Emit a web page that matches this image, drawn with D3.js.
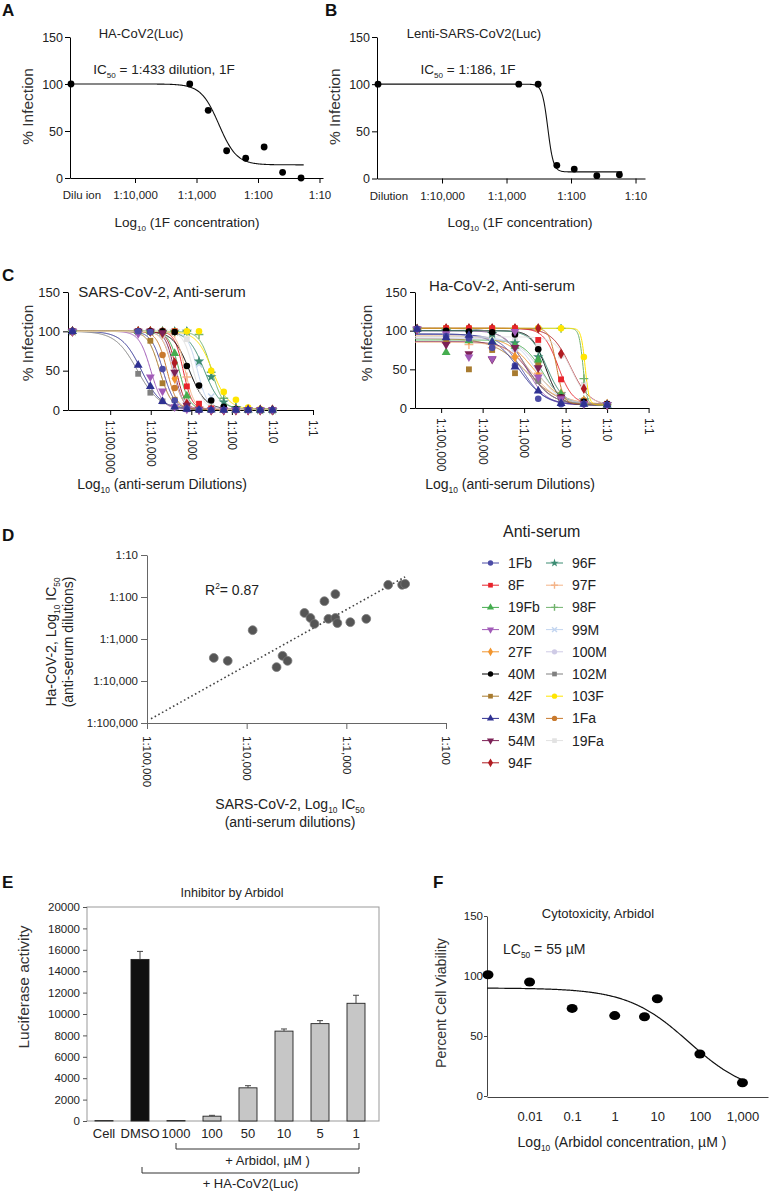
<!DOCTYPE html>
<html>
<head>
<meta charset="utf-8">
<script src="https://cdn.jsdelivr.net/npm/d3@7"></script>
<style>
body { margin: 0; background: #fff; }
svg { display: block; font-family: "Liberation Sans", Arial, Helvetica, sans-serif; }
</style>
</head>
<body>
<svg id="fig" width="778" height="1191"></svg>
<script>
// ---------- data (x values are log10 of the reciprocal dilution / concentration) ----------

// A: HA-CoV2(Luc) neutralised by 1F
var aDilution = [3.11, 2.81, 2.51, 2.2, 1.9, 1.6, 1.3];
var aInfection = [100, 72, 29, 21, 33, 6, 0];
var aControl = 100;
var aFit = [100, 14, 2.636, 3];          // top, bottom, logIC50, hill

// B: Lenti-SARS-CoV2(Luc) neutralised by 1F
var bDilution = [2.81, 2.51, 2.22, 1.95, 1.6, 1.25];
var bInfection = [100, 100, 14, 10, 3, 4];
var bControl = 100;
var bFit = [100, 7, 2.36, 10];

var dilTicks = [4, 3, 2, 1];
var dilTickLabels = ["1:10,000", "1:1,000", "1:100", "1:10"];
var pctTicks = [0, 50, 100, 150];

// C / D: anti-serum samples
var sera = ["1Fb", "8F", "19Fb", "20M", "27F", "40M", "42F", "43M", "54M", "94F",
            "96F", "97F", "98F", "99M", "100M", "102M", "103F", "1Fa", "19Fa"];
var seraColors = ["#4c4ca6", "#e8232b", "#45ad4f", "#a15bb8", "#f2962f", "#000000", "#a87b2f", "#2f3192", "#7d2257", "#b01c22",
                  "#3c8c73", "#f4b489", "#72b36e", "#c3d5f0", "#cfcbe6", "#808080", "#ffe500", "#c97a2e", "#e2e2e2"];
var seraShapes = ["circle", "square", "triangle", "down", "diamond", "circle", "square", "triangle", "down", "diamond",
                  "star", "plus", "plus", "x", "circle", "square", "circle", "circle", "square"];
// marker stacking, lightest first
var drawOrder = [18, 14, 13, 11, 12, 15, 10, 17, 4, 6, 2, 16, 9, 1, 5, 8, 3, 0, 7];

// C left: SARS-CoV-2, 2-fold series 1:20480 .. 1:10
var cLeftDil = [4.31, 4.01, 3.71, 3.41, 3.11, 2.81, 2.51, 2.2, 1.9, 1.6, 1.3, 1.0];
var cLeftControl = 100;
var cLeftFit = [[3.70, 3], [3.2, 4], [3.3, 3.5], [4.0, 3], [3.46, 3.5], [3.05, 2.2], [3.78, 3], [4.23, 1.8], [3.42, 4], [3.37, 4],
                [2.68, 2.2], [3.15, 4], [2.5, 3], [2.85, 3.5], [3.45, 3.5], [4.33, 1.6], [2.48, 2.2], [3.6, 3.5], [2.95, 3.5]];
var cLeftVals = [
  [100, 99, 52, 12, 2, 0, 0, 0, 0, 0, 0, 0],
  [100, 100, 100, 100, 30, 8, 2, 0, 0, 0, 0, 0],
  [100, 100, 100, 72, 18, 3, 1, 0, 0, 0, 0, 0],
  [97, 42, 24, 4, 1, 0, 0, 0, 0, 0, 0, 0],
  [100, 100, 97, 40, 6, 1, 0, 0, 0, 0, 0, 0],
  [100, 100, 100, 99, 56, 31, 12, 4, 1, 0, 0, 0],
  [100, 88, 34, 13, 3, 0, 0, 0, 0, 0, 0, 0],
  [57, 30, 11, 4, 1, 0, 0, 0, 0, 0, 0, 0],
  [100, 100, 98, 48, 6, 1, 0, 0, 0, 0, 0, 0],
  [100, 100, 99, 60, 8, 1, 0, 0, 0, 0, 0, 0],
  [100, 100, 100, 100, 100, 62, 42, 10, 3, 1, 0, 0],
  [100, 100, 100, 97, 42, 4, 1, 0, 0, 0, 0, 0],
  [100, 100, 100, 100, 100, 96, 48, 15, 4, 1, 0, 0],
  [100, 100, 100, 100, 99, 58, 17, 2, 0, 0, 0, 0],
  [100, 100, 95, 46, 9, 2, 0, 0, 0, 0, 0, 0],
  [46, 22, 11, 3, 1, 0, 0, 0, 0, 0, 0, 0],
  [100, 100, 100, 100, 100, 100, 50, 23, 13, 3, 1, 0],
  [100, 99, 70, 28, 6, 1, 0, 0, 0, 0, 0, 0],
  [100, 100, 100, 100, 90, 30, 6, 1, 0, 0, 0, 0]
];

// C right: Ha-CoV-2
var cRightDil = [4.88, 4.33, 3.77, 3.22, 2.66, 2.11, 1.56, 1.0];
var cRightControl = 102;
var cRightFit = [[95, 4, 3.05, 1.6], [103, 5, 2.18, 2.5], [88, 4, 2.55, 1.8], [100, 4, 2.95, 1.8], [93, 5, 2.75, 1.3],
                 [100, 4, 2.48, 2.6], [90, 4, 2.95, 1.1], [96, 4, 3.12, 1.4], [86, 4, 2.85, 1.5], [103, 3, 1.88, 1.9],
                 [100, 5, 2.45, 2.2], [85, 5, 2.8, 1.4], [103, 4, 1.58, 9], [92, 5, 2.7, 1.6], [90, 5, 2.6, 1.6],
                 [103, 5, 2.95, 1.5], [103, 4, 1.53, 9], [103, 5, 2.22, 5], [92, 5, 1.85, 2.2]];
var cRightVals = [
  [93, 90, 78, 55, 12, 5, 5, 4],
  [103, 103, 103, 103, 88, 37, 8, 5],
  [72, 87, 86, 80, 62, 18, 7, 4],
  [96, 66, 64, 99, 40, 12, 5, 4],
  [92, 88, 80, 66, 42, 18, 9, 5],
  [100, 99, 98, 95, 76, 14, 8, 5],
  [88, 50, 75, 45, 56, 15, 8, 5],
  [91, 94, 85, 53, 22, 6, 5, 4],
  [82, 70, 63, 78, 52, 14, 6, 4],
  [103, 103, 103, 103, 103, 70, 25, 4],
  [100, 98, 96, 84, 66, 18, 10, 5],
  [84, 82, 78, 67, 45, 20, 9, 5],
  [103, 103, 103, 103, 103, 103, 38, 4],
  [92, 90, 86, 78, 55, 14, 6, 5],
  [90, 88, 84, 76, 62, 16, 7, 5],
  [103, 101, 96, 80, 35, 12, 6, 5],
  [103, 103, 103, 103, 103, 103, 66, 5],
  [103, 103, 103, 103, 103, 14, 10, 5],
  [92, 92, 90, 88, 80, 68, 30, 6]
];
var cTicks = [5, 4, 3, 2, 1, 0];
var cTickLabels = ["1:100,000", "1:10,000", "1:1,000", "1:100", "1:10", "1:1"];

// D: IC50 correlation
var dSars = [4.33, 4.19, 3.94, 3.70, 3.64, 3.59, 3.42, 3.36, 3.32, 3.22, 3.18, 3.11, 3.11, 3.09, 2.96, 2.80, 2.58, 2.44, 2.41];
var dHa   = [3.45, 3.52, 2.79, 3.67, 3.40, 3.52, 2.38, 2.50, 2.64, 2.10, 2.52, 1.93, 2.50, 2.62, 2.60, 2.52, 1.71, 1.71, 1.69];
var dFitX = [4.96, 2.41];
var dFitY = [4.90, 1.52];
var dTicks = [5, 4, 3, 2, 1];
var dTickLabels = ["1:100,000", "1:10,000", "1:1,000", "1:100", "1:10"];

// E: luciferase, Arbidol
var eCats = ["Cell", "DMSO", "1000", "100", "50", "10", "5", "1"];
var eVals = [40, 15100, 40, 450, 3100, 8400, 9100, 11000];
var eErr  = [0, 750, 0, 80, 200, 200, 280, 750];
var eTicks = [0, 2000, 4000, 6000, 8000, 10000, 12000, 14000, 16000, 18000, 20000];

// F: cytotoxicity, Arbidol (log10 µM)
var fConc = [-2, -1, 0, 0.699, 1, 2, 3];
var fViab = [95, 73, 67, 66, 81, 35, 11];
var fControl = 101;
var fFit = [90, 0, 1.74, 0.6];
var fTicks = [-2, -1, 0, 1, 2, 3];
var fTickLabels = ["0.01", "0.1", "1", "10", "100", "1,000"];

// ---------- helpers ----------
var svg = d3.select("#fig");
svg.append("rect").attr("width", 778).attr("height", 1191).attr("fill", "#fff");

function fourPL(p, L) {
  return p[1] + (p[0] - p[1]) / (1 + Math.pow(10, p[3] * (p[2] - L)));
}

function styleAxis(g, size, color) {
  g.selectAll("path, line").attr("stroke", color || "#000");
  g.selectAll("text").style("font-size", size + "px").attr("fill", "#222");
}

// parts: [text, kind] kind 0 normal, 1 subscript, 2 superscript
function richText(g, x, y, parts, size, anchor) {
  var t = g.append("text").attr("x", x).attr("y", y)
    .style("font-size", size + "px").attr("text-anchor", anchor || "start").attr("fill", "#222");
  var off = 0;
  parts.forEach(function(p) {
    var s = t.append("tspan").text(p[0]);
    var want = p[1] == 1 ? size * 0.28 : p[1] == 2 ? -size * 0.4 : 0;
    if (want != off) { s.attr("dy", want - off); off = want; }
    if (p[1]) s.style("font-size", (size * 0.6) + "px");
  });
  return t;
}

function letter(t, x, y) {
  svg.append("text").attr("x", x).attr("y", y).text(t)
    .style("font-size", "17px").style("font-weight", "bold").attr("fill", "#111");
}

function vLabel(g, x, y, txt, size) {
  g.append("g").attr("transform", "translate(" + x + "," + y + ") rotate(-90)")
    .append("text").attr("text-anchor", "middle").style("font-size", size + "px")
    .style("font-weight", "normal").attr("fill", "#333").text(txt);
}

var symTypes = { circle: d3.symbolCircle, square: d3.symbolSquare, triangle: d3.symbolTriangle, down: d3.symbolTriangle,
                 diamond: d3.symbolDiamond, star: d3.symbolStar, plus: d3.symbolPlus, x: d3.symbolX };

function mark(g, shape, color, cx, cy, size) {
  var stroked = shape == "plus" || shape == "x";
  g.append("path").attr("d", d3.symbol(symTypes[shape], stroked ? size * 0.8 : size)())
    .attr("transform", "translate(" + cx + "," + cy + ")" + (shape == "down" ? " rotate(180)" : ""))
    .attr("fill", stroked ? "none" : color)
    .attr("stroke", stroked ? color : "none")
    .attr("stroke-width", stroked ? 1.4 : 0);
}

// ---------- A and B ----------
function dosePanel(c) {
  var x = d3.scaleLinear().domain(c.xDom).range(c.xRange);
  var y = d3.scaleLinear().domain([0, 150]).range(c.yRange);
  var g = svg.append("g");

  g.append("g").attr("transform", "translate(0," + c.yRange[0] + ")")
    .call(d3.axisBottom(x).tickValues(dilTicks).tickFormat(function(d, i) { return dilTickLabels[i]; })
      .tickSize(5).tickPadding(8).tickSizeOuter(0))
    .call(styleAxis, 11.5);
  g.append("g").attr("transform", "translate(" + c.xRange[0] + ",0)")
    .call(d3.axisLeft(y).tickValues(pctTicks).tickSize(5).tickPadding(2).tickSizeOuter(0))
    .call(styleAxis, 12.5);

  g.append("text").attr("x", x(c.xDom[0]) + 12).attr("y", c.yRange[0] + 21)
    .attr("text-anchor", "middle").style("font-size", "11.5px").attr("fill", "#222").text(c.ctrlLabel);

  var Ls = d3.range(c.xDom[0], c.fitEnd, -0.01);
  g.append("path").datum(Ls)
    .attr("d", d3.line().x(function(L) { return x(L); }).y(function(L) { return y(fourPL(c.fit, L)); }))
    .attr("fill", "none").attr("stroke", "#111").attr("stroke-width", 1.1);

  g.append("circle").attr("cx", x(c.xDom[0]) + 1).attr("cy", y(c.control)).attr("r", 3.4).attr("fill", "#000");
  g.selectAll("circle.pt").data(c.dil).enter().append("circle").attr("class", "pt")
    .attr("cx", function(d) { return x(d); })
    .attr("cy", function(d, i) { return y(c.vals[i]); })
    .attr("r", 3.4).attr("fill", "#000");

  g.append("text").attr("x", c.titleX).attr("y", 38).attr("text-anchor", "middle")
    .style("font-size", "13px").attr("fill", "#222").text(c.title);
  richText(g, c.icX, 74, [["IC", 0], ["50", 1], [c.icText, 0]], 13.5, "middle");

  vLabel(g, c.xRange[0] - 37, (c.yRange[0] + c.yRange[1]) / 2 - 1, "% Infection", 15.5);

  richText(g, c.titleX + 46, 227, [["Log", 0], ["10", 1], [" (1F concentration)", 0]], 13.5, "middle");
}

letter("A", 2, 16);
dosePanel({ xDom: [5.057, 0.943], xRange: [70, 323], yRange: [178, 37], fit: aFit, fitEnd: 1.25,
  dil: aDilution, vals: aInfection, control: aControl, ctrlLabel: "Dilu ion",
  title: "HA-CoV2(Luc)", titleX: 141, icX: 164, icText: " = 1:433 dilution, 1F" });

letter("B", 325, 16);
dosePanel({ xDom: [5.008, 0.853], xRange: [377, 645], yRange: [178.5, 37], fit: bFit, fitEnd: 1.2,
  dil: bDilution, vals: bInfection, control: bControl, ctrlLabel: "Dilution",
  title: "Lenti-SARS-CoV2(Luc)", titleX: 474, icX: 468, icText: " = 1:186, 1F" });

// ---------- C ----------
function seraPanel(c) {
  var x = d3.scaleLinear().domain(c.xDom).range(c.xRange);
  var y = d3.scaleLinear().domain([0, 150]).range(c.yRange);
  var g = svg.append("g");

  var ax = g.append("g").attr("transform", "translate(0," + c.yRange[0] + ")")
    .call(d3.axisBottom(x).tickValues(cTicks).tickFormat(function(d, i) { return cTickLabels[i]; })
      .tickSize(5).tickSizeOuter(0))
    .call(styleAxis, 12);
  ax.selectAll(".tick text").attr("y", 0).attr("x", 10).attr("dy", "0.35em")
    .attr("transform", "rotate(90)").style("text-anchor", "start");
  g.append("g").attr("transform", "translate(" + c.xRange[0] + ",0)")
    .call(d3.axisLeft(y).tickValues(pctTicks).tickSize(5).tickPadding(3).tickSizeOuter(0))
    .call(styleAxis, 13);

  var Ls = d3.range(c.xDom[0], 0.99, -0.01);
  sera.forEach(function(s, i) {
    g.append("path").datum(Ls)
      .attr("d", d3.line().x(function(L) { return x(L); }).y(function(L) { return y(c.fitOf(i, L)); }))
      .attr("fill", "none").attr("stroke", seraColors[i]).attr("stroke-width", 1);
  });
  var mg = g.append("g");
  drawOrder.forEach(function(i) {
    mark(mg, seraShapes[i], seraColors[i], x(c.ctrlL), y(c.control), 34);
    c.dil.forEach(function(L, j) {
      mark(mg, seraShapes[i], seraColors[i], x(L), y(c.vals[i][j]), 34);
    });
  });

  g.append("text").attr("x", c.titleX).attr("y", c.titleY).attr("text-anchor", "middle")
    .style("font-size", "15px").attr("fill", "#222").text(c.title);
  vLabel(g, c.ylabX, 343, "% Infection", 15.5);
  richText(g, c.xtX, 489, [["Log", 0], ["10", 1], [" (anti-serum Dilutions)", 0]], 14, "middle");
}

letter("C", 2, 281);
seraPanel({ xDom: [6.04, 0], xRange: [68, 313], yRange: [410, 292], dil: cLeftDil, vals: cLeftVals,
  ctrlL: 5.93, control: cLeftControl,
  fitOf: function(i, L) { return fourPL([100, 1, cLeftFit[i][0], cLeftFit[i][1]], L); },
  title: "SARS-CoV-2, Anti-serum", titleX: 162, titleY: 297, ylabX: 33, xtX: 162 });
seraPanel({ xDom: [5.63, 0], xRange: [415, 648.6], yRange: [408, 292], dil: cRightDil, vals: cRightVals,
  ctrlL: 5.58, control: cRightControl,
  fitOf: function(i, L) { return fourPL(cRightFit[i], L); },
  title: "Ha-CoV-2, Anti-serum", titleX: 502, titleY: 291, ylabX: 372, xtX: 510 });

// ---------- D ----------
letter("D", 2, 541);
var xD = d3.scaleLinear().domain([5, 2]).range([147, 446]);
var yD = d3.scaleLinear().domain([5, 1]).range([723, 555]);
var gD = svg.append("g");
var axD = gD.append("g").attr("transform", "translate(0,723)")
  .call(d3.axisBottom(xD).tickValues(dTicks.slice(0, 4)).tickFormat(function(d, i) { return dTickLabels[i]; })
    .tickSize(6).tickSizeOuter(0))
  .call(styleAxis, 11.5, "#666");
axD.selectAll(".tick text").attr("y", 0).attr("x", 13).attr("dy", "0.35em")
  .attr("transform", "rotate(90)").style("text-anchor", "start");
gD.append("g").attr("transform", "translate(147,0)")
  .call(d3.axisLeft(yD).tickValues(dTicks).tickFormat(function(d, i) { return dTickLabels[i]; })
    .tickSize(6).tickPadding(3).tickSizeOuter(0))
  .call(styleAxis, 11.5, "#666");

gD.append("path").datum(d3.range(2))
  .attr("d", d3.line().x(function(i) { return xD(dFitX[i]); }).y(function(i) { return yD(dFitY[i]); }))
  .attr("stroke", "#444").attr("stroke-width", 1.6).attr("stroke-dasharray", "1.6,2.6").attr("fill", "none");

gD.selectAll("circle.dp").data(dSars).enter().append("circle").attr("class", "dp")
  .attr("cx", function(d) { return xD(d); })
  .attr("cy", function(d, i) { return yD(dHa[i]); })
  .attr("r", 4.4).attr("fill", "#555").attr("stroke", "#777").attr("stroke-width", 0.8);

richText(gD, 205, 595, [["R", 0], ["2", 2], ["= 0.87", 0]], 14, "start");

var dyl = gD.append("g").attr("transform", "translate(0,642) rotate(-90)");
richText(dyl, 0, 56, [["Ha-CoV-2, Log", 0], ["10", 1], [" IC", 0], ["50", 1]], 14, "middle");
dyl.append("text").attr("x", 0).attr("y", 73).attr("text-anchor", "middle")
  .style("font-size", "14px").attr("fill", "#222").text("(anti-serum dilutions)");
richText(gD, 290, 809, [["SARS-CoV-2, Log", 0], ["10", 1], [" IC", 0], ["50", 1]], 14, "middle");
gD.append("text").attr("x", 290).attr("y", 827).attr("text-anchor", "middle")
  .style("font-size", "14px").attr("fill", "#222").text("(anti-serum dilutions)");

// legend
var gL = svg.append("g");
gL.append("text").attr("x", 503).attr("y", 537).style("font-size", "16px").attr("fill", "#222").text("Anti-serum");
sera.forEach(function(s, i) {
  var col = i < 10 ? 0 : 1, row = i < 10 ? i : i - 10;
  var lx = col ? 546 : 482, cy = 563 + row * 22.2;
  gL.append("line").attr("x1", lx).attr("x2", lx + 17).attr("y1", cy).attr("y2", cy)
    .attr("stroke", seraColors[i]).attr("stroke-width", 1);
  mark(gL, seraShapes[i], seraColors[i], lx + 8.5, cy, 22);
  gL.append("text").attr("x", lx + 26).attr("y", cy + 5).style("font-size", "14px").attr("fill", "#222").text(s);
});

// ---------- E ----------
letter("E", 2, 888);
var xE = d3.scaleBand().domain(eCats).range([86, 374]).paddingInner(0.5).paddingOuter(0.25);
var yE = d3.scaleLinear().domain([0, 20000]).range([1121, 907]);
var gE = svg.append("g");
gE.append("rect").attr("x", 87).attr("y", 907).attr("width", 292).attr("height", 214)
  .attr("fill", "none").attr("stroke", "#999").attr("stroke-width", 1);
var axE = gE.append("g").attr("transform", "translate(87,0)")
  .call(d3.axisLeft(yE).tickValues(eTicks).tickFormat(d3.format("d")).tickSize(4).tickPadding(3).tickSizeOuter(0))
  .call(styleAxis, 11.5, "#555");
axE.select(".domain").remove();

gE.selectAll("rect.bar").data(eVals).enter().append("rect").attr("class", "bar")
  .attr("x", function(d, i) { return xE(eCats[i]); })
  .attr("y", function(d) { return yE(d); })
  .attr("width", xE.bandwidth())
  .attr("height", function(d) { return yE(0) - yE(d); })
  .attr("fill", function(d, i) { return eCats[i] == "DMSO" ? "#111" : "#c6c6c6"; })
  .attr("stroke", "#222").attr("stroke-width", 0.9);
eVals.forEach(function(v, i) {
  if (!eErr[i]) return;
  var cx = xE(eCats[i]) + xE.bandwidth() / 2;
  gE.append("line").attr("x1", cx).attr("x2", cx).attr("y1", yE(v)).attr("y2", yE(v + eErr[i])).attr("stroke", "#444");
  gE.append("line").attr("x1", cx - 3).attr("x2", cx + 3).attr("y1", yE(v + eErr[i])).attr("y2", yE(v + eErr[i])).attr("stroke", "#444");
});
eCats.forEach(function(c) {
  gE.append("text").attr("x", xE(c) + xE.bandwidth() / 2).attr("y", 1138).attr("text-anchor", "middle")
    .style("font-size", "13px").attr("fill", "#222").text(c);
});
gE.append("text").attr("x", 232).attr("y", 897).attr("text-anchor", "middle")
  .style("font-size", "12.5px").attr("fill", "#222").text("Inhibitor by Arbidol");
vLabel(gE, 29, 987, "Luciferase activity", 15.5);

function bracket(x1, x2, y, label, ty) {
  gE.append("path").attr("d", "M" + x1 + "," + (y - 6) + "V" + y + "H" + x2 + "V" + (y - 6))
    .attr("fill", "none").attr("stroke", "#333").attr("stroke-width", 1);
  gE.append("text").attr("x", (x1 + x2) / 2).attr("y", ty).attr("text-anchor", "middle")
    .style("font-size", "13px").attr("fill", "#222").text(label);
}
var bw = xE.bandwidth() / 2;
bracket(xE("1000") + bw, xE("1") + bw + 3, 1149, "+ Arbidol, \u00b5M )", 1165);
bracket(xE("DMSO") + bw + 2, xE("1") + bw + 3, 1173, "+ HA-CoV2(Luc)", 1188);

// ---------- F ----------
letter("F", 433, 888);
var xF = d3.scaleLinear().domain([-3, 3.6]).range([487, 768]);
var yF = d3.scaleLinear().domain([0, 150]).range([1096, 916]);
var gF = svg.append("g");
gF.append("g").attr("transform", "translate(0,1097)")
  .call(d3.axisBottom(xF).tickValues(fTicks).tickFormat(function(d, i) { return fTickLabels[i]; })
    .tickSize(0).tickPadding(15).tickSizeOuter(0))
  .call(styleAxis, 13, "#444");
gF.append("g").attr("transform", "translate(487,0)")
  .call(d3.axisLeft(yF).tickValues(pctTicks).tickSize(3).tickPadding(1).tickSizeOuter(0))
  .call(styleAxis, 11.5, "#444");

gF.append("path").datum(d3.range(-3, 3.001, 0.02))
  .attr("d", d3.line().x(function(c) { return xF(c); }).y(function(c) { return yF(fourPL(fFit, -c + 2 * fFit[2])); }))
  .attr("fill", "none").attr("stroke", "#111").attr("stroke-width", 1.2);

gF.append("ellipse").attr("cx", xF(-3) + 1).attr("cy", yF(fControl)).attr("rx", 5.5).attr("ry", 4.5).attr("fill", "#000");
gF.selectAll("ellipse.fp").data(fConc).enter().append("ellipse").attr("class", "fp")
  .attr("cx", function(d) { return xF(d); })
  .attr("cy", function(d, i) { return yF(fViab[i]); })
  .attr("rx", 5.5).attr("ry", 4.5).attr("fill", "#000");

gF.append("text").attr("x", 598).attr("y", 918).attr("text-anchor", "middle")
  .style("font-size", "13px").attr("fill", "#222").text("Cytotoxicity, Arbidol");
richText(gF, 503, 954, [["LC", 0], ["50", 1], [" = 55 \u00b5M", 0]], 14, "start");
vLabel(gF, 446, 1003, "Percent Cell Viability", 14.2);
richText(gF, 622, 1147, [["Log", 0], ["10", 1], [" (Arbidol concentration, \u00b5M )", 0]], 14, "middle");
</script>
</body>
</html>
